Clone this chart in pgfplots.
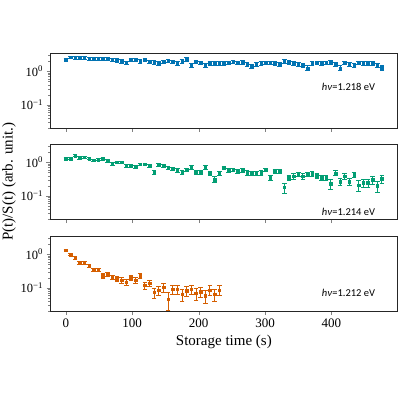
\documentclass[border=0pt]{standalone}
\usepackage{fontspec}
\usepackage{pgfplots}
\usepackage{pgfplotstable}
\pgfplotsset{compat=1.18}
\setmainfont{Liberation Serif}
\newfontfamily\annfont{Carlito}

\definecolor{cbblue}{HTML}{0173B2}
\definecolor{cbgreen}{HTML}{029E73}
\definecolor{cborange}{HTML}{D55E00}

% hv = 1.218 eV
\pgfplotstableread{
t v e
0 2.24 0.25
7 2.60 0.25
14 2.55 0.25
21 2.50 0.25
28 2.45 0.25
35 2.40 0.25
42 2.35 0.25
49 2.30 0.25
56 2.35 0.25
63 2.30 0.25
70 2.20 0.25
77 2.10 0.25
84 2.00 0.25
91 1.80 0.22
98 2.20 0.25
105 2.15 0.25
112 2.00 0.25
119 2.20 0.25
126 1.95 0.22
133 1.85 0.22
140 1.70 0.22
147 1.95 0.22
154 2.05 0.25
161 1.90 0.22
168 1.75 0.22
175 2.00 0.25
182 2.30 0.28
189 1.55 0.22
196 1.90 0.22
203 1.80 0.22
210 1.55 0.22
217 1.75 0.22
224 1.75 0.22
231 1.75 0.22
238 1.75 0.22
245 1.80 0.22
252 1.95 0.22
259 1.80 0.22
266 1.85 0.22
273 1.65 0.22
280 1.45 0.20
287 1.60 0.22
294 1.70 0.22
301 1.80 0.22
308 1.80 0.22
315 1.70 0.22
322 1.65 0.22
329 1.95 0.25
336 1.85 0.22
343 1.70 0.22
350 1.60 0.22
357 1.50 0.20
364 1.25 0.20
371 1.70 0.22
378 1.80 0.22
385 1.75 0.22
392 1.80 0.22
399 1.85 0.22
406 1.60 0.22
413 1.25 0.20
420 1.80 0.22
427 1.65 0.22
434 1.55 0.22
441 1.80 0.22
448 1.75 0.22
455 1.75 0.22
462 1.70 0.22
469 1.50 0.22
476 1.28 0.20
}\dataA

% hv = 1.214 eV
\pgfplotstableread{
t v e
0 1.29 0.10
7 1.29 0.10
14 1.58 0.12
21 1.35 0.10
28 1.41 0.10
35 1.29 0.10
42 1.15 0.10
49 1.20 0.10
56 1.25 0.10
63 1.12 0.10
70 0.90 0.09
77 1.00 0.09
84 1.00 0.09
91 0.80 0.08
98 0.80 0.08
105 0.74 0.08
112 0.87 0.08
119 0.87 0.08
126 0.78 0.08
133 0.52 0.07
140 0.85 0.08
147 0.80 0.08
154 0.68 0.07
161 0.63 0.07
168 0.57 0.07
175 0.50 0.07
182 0.60 0.07
189 0.71 0.08
196 0.50 0.07
203 0.50 0.07
210 0.71 0.08
217 0.48 0.07
224 0.31 0.06
231 0.48 0.07
238 0.68 0.08
245 0.57 0.07
252 0.60 0.07
259 0.55 0.07
266 0.57 0.07
273 0.49 0.07
280 0.47 0.07
287 0.47 0.07
294 0.49 0.07
301 0.60 0.07
308 0.35 0.07
315 0.55 0.07
322 0.55 0.07
329 0.18 0.06
336 0.35 0.07
343 0.39 0.07
350 0.44 0.07
357 0.39 0.07
364 0.44 0.07
371 0.45 0.07
378 0.40 0.07
385 0.35 0.07
392 0.35 0.07
399 0.23 0.07
406 0.48 0.08
413 0.27 0.07
420 0.39 0.08
427 0.27 0.07
434 0.43 0.08
441 0.21 0.07
448 0.25 0.07
455 0.25 0.07
462 0.30 0.08
469 0.20 0.07
476 0.32 0.08
}\dataB

% hv = 1.212 eV
\pgfplotstableread{
t v e
0 1.32 0.10
7 0.98 0.08
14 0.78 0.06
21 0.56 0.05
28 0.56 0.05
35 0.45 0.05
42 0.35 0.04
49 0.35 0.04
56 0.23 0.035
63 0.26 0.035
70 0.21 0.03
77 0.19 0.03
84 0.17 0.03
91 0.15 0.03
98 0.20 0.03
105 0.17 0.03
112 0.23 0.035
119 0.12 0.03
126 0.14 0.03
133 0.074 0.025
140 0.087 0.025
147 0.105 0.03
154 0.047 0.026
161 0.093 0.028
168 0.093 0.028
175 0.066 0.025
182 0.083 0.026
189 0.093 0.028
196 0.069 0.025
203 0.079 0.026
210 0.059 0.025
217 0.087 0.028
224 0.066 0.025
231 0.087 0.028
}\dataC

\pgfplotsset{
  every axis/.append style={
    scale only axis, width=347.7pt, height=75.5pt,
    xmin=-23.8, xmax=499.8,
    ymin=0.02, ymax=3.5,
    xtick={0,100,200,300,400},
    ytick={0.1,1},
    yticklabels={10\textsuperscript{−1},10\textsuperscript{0}},
    minor ytick={0.02,0.03,0.04,0.05,0.06,0.07,0.08,0.09,0.2,0.3,0.4,0.5,0.6,0.7,0.8,0.9,2,3},
    tick align=outside, tick pos=left,
    major tick length=3.5pt, minor tick length=2pt,
    axis line style={black!85, line width=0.8pt},
    yticklabel style={font=\fontsize{12.5}{13}\selectfont},
    xticklabel style={font=\fontsize{13}{14}\selectfont},
    clip=false,
  },
}
\pgfkeys{/pgf/number format/assume math mode=true}

\begin{document}
\begin{tikzpicture}
\useasboundingbox (0pt,0pt) rectangle (400pt,400pt);

\begin{semilogyaxis}[at={(50pt,271.5pt)}, anchor=south west, xticklabels={}]
\addplot[only marks, mark=square*, mark size=1.3pt, color=cbblue,
  error bars/.cd, y dir=both, y explicit,
  error bar style={line width=0.9pt},
  error mark options={rotate=90, mark size=2.3pt, line width=0.9pt}]
  table[x=t, y=v, y error=e] {\dataA};
\node[anchor=east, font=\annfont\fontsize{10.5}{12}\selectfont] at (rel axis cs:0.945,0.55) {\textit{hν}=1.218 eV};
\end{semilogyaxis}

\begin{semilogyaxis}[at={(50pt,180.5pt)}, anchor=south west, xticklabels={}]
\addplot[only marks, mark=square*, mark size=1.3pt, color=cbgreen,
  error bars/.cd, y dir=both, y explicit,
  error bar style={line width=0.9pt},
  error mark options={rotate=90, mark size=2.3pt, line width=0.9pt}]
  table[x=t, y=v, y error=e] {\dataB};
\node[anchor=east, font=\annfont\fontsize{10.5}{12}\selectfont] at (rel axis cs:0.945,0.10) {\textit{hν}=1.214 eV};
\node[rotate=90, font=\fontsize{15}{16}\selectfont] at (rel axis cs:-0.118,0.5) {P(t)/S(t) (arb. unit.)};
\end{semilogyaxis}

\begin{semilogyaxis}[at={(50pt,88.5pt)}, anchor=south west]
\addplot[only marks, mark=square*, mark size=1.3pt, color=cborange,
  error bars/.cd, y dir=both, y explicit,
  error bar style={line width=0.9pt},
  error mark options={rotate=90, mark size=2.3pt, line width=0.9pt}]
  table[x=t, y=v, y error=e] {\dataC};
\node[anchor=east, font=\annfont\fontsize{10.5}{12}\selectfont] at (rel axis cs:0.945,0.24) {\textit{hν}=1.212 eV};
\node[font=\fontsize{15}{16}\selectfont] at (rel axis cs:0.5,0) [yshift=-30pt] {Storage time (s)};
\end{semilogyaxis}
\end{tikzpicture}
\end{document}
